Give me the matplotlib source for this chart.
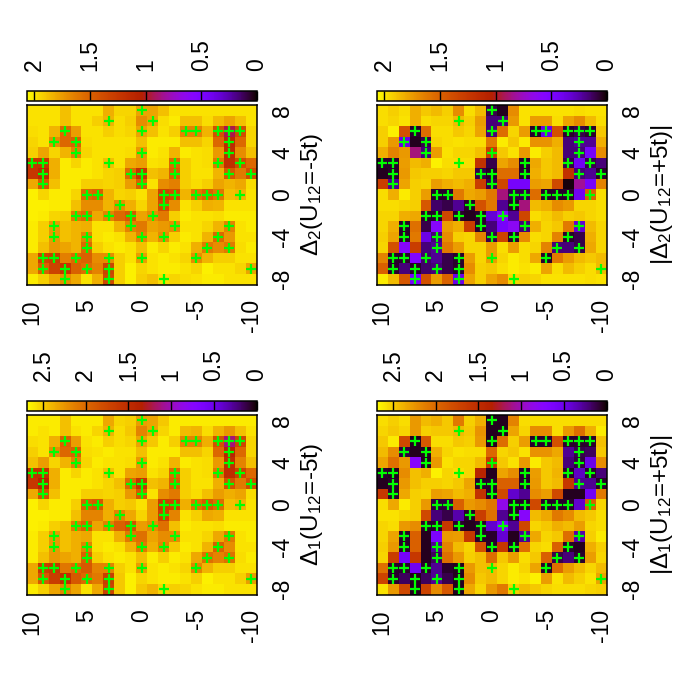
"""Four gap maps with zero-site markers, drawn rotated as on the printed page."""
import matplotlib

matplotlib.use("Agg")
import matplotlib.pyplot as plt
import numpy as np
from matplotlib.colors import ListedColormap

plt.rcParams["font.family"] = ["Liberation Sans", "DejaVu Sans"]
plt.rcParams["mathtext.fontset"] = "custom"
plt.rcParams["mathtext.rm"] = "Liberation Sans"
plt.rcParams["mathtext.it"] = "Liberation Sans"
plt.rcParams["mathtext.default"] = "rm"

# cell values as percent of each panel's colour range, rows x=8..-8, columns y=10..-10
d2_minus = [
    [96,96,96,91,96,96,96,88,94,94,86,86,91,96,96,96,96,96,96,96,96],
    [96,96,96,91,96,96,93,89,95,93,82,86,95,97,91,91,95,90,86,91,96],
    [95,96,89,74,85,96,96,93,95,94,86,91,96,93,80,80,89,68,45,67,94],
    [94,96,82,74,72,95,96,96,96,96,91,97,97,97,91,91,94,74,55,74,94],
    [93,86,94,89,80,94,96,96,96,95,84,97,96,89,97,96,95,84,56,82,91],
    [60,60,88,97,94,97,96,91,96,87,85,96,95,74,93,96,95,77,57,67,74],
    [60,55,88,97,97,97,96,94,93,74,59,91,89,72,93,96,96,89,70,78,67],
    [87,70,91,97,97,93,93,94,93,85,72,96,82,79,93,95,93,86,89,87,95],
    [98,94,97,97,94,74,72,89,94,93,96,86,64,67,89,77,72,77,91,89,96],
    [98,98,97,97,91,82,82,89,82,88,94,86,67,82,96,93,88,89,96,96,96],
    [98,97,94,93,78,74,87,80,74,70,86,82,78,93,97,96,96,95,97,97,97],
    [97,93,84,91,89,88,96,96,89,80,78,86,84,82,96,96,94,89,80,96,97],
    [97,93,84,91,89,80,96,97,96,89,80,89,82,93,97,96,89,74,84,96,96],
    [97,91,84,86,89,74,93,96,97,96,91,97,94,97,96,88,78,82,78,95,97],
    [87,64,62,79,74,72,82,82,93,96,85,96,97,96,94,82,89,93,93,96,96],
    [87,72,64,59,72,75,80,64,93,98,94,96,97,97,96,94,98,96,96,94,86],
    [97,93,87,82,87,96,88,66,93,98,93,91,95,94,95,96,97,97,96,96,96],
]
d2_plus = [
    [95,93,95,88,92,90,93,82,95,90,5,2,82,96,96,96,96,96,95,96,96],
    [95,94,96,88,95,94,94,90,93,85,8,8,84,96,85,85,95,86,82,90,95],
    [93,98,68,3,75,95,95,92,94,86,8,75,94,85,3,18,68,3,5,3,92],
    [93,84,18,2,5,94,95,96,95,95,78,97,92,97,83,83,88,8,10,10,88],
    [88,80,84,42,8,85,96,94,94,91,62,92,96,84,97,93,90,8,8,22,82],
    [3,3,85,90,88,98,95,95,95,58,5,86,82,3,87,92,90,5,20,5,8],
    [2,3,84,92,93,93,94,92,92,5,3,75,75,3,88,92,90,58,8,10,3],
    [62,10,86,93,94,85,88,90,88,62,5,65,22,22,85,86,66,1,40,22,80],
    [95,88,97,93,85,3,3,78,87,85,78,42,5,5,75,3,3,3,20,72,95],
    [95,95,94,93,70,7,5,10,3,68,78,10,3,42,90,88,82,84,94,94,95],
    [94,94,88,87,3,3,65,3,2,3,16,28,10,65,95,93,90,93,92,94,95],
    [94,88,3,76,5,28,85,88,62,3,8,22,30,8,88,94,92,78,16,90,94],
    [93,86,3,78,18,8,82,93,94,80,5,64,3,82,95,94,80,3,5,88,94],
    [94,68,28,62,8,10,78,85,94,94,85,95,85,95,94,80,8,8,5,87,94],
    [80,3,3,26,7,10,5,3,85,94,85,94,97,95,87,3,78,85,90,92,90],
    [72,3,8,3,7,8,5,3,82,93,92,95,97,96,97,86,95,90,93,95,90],
    [97,90,70,22,68,85,73,18,86,93,86,82,94,93,94,96,96,96,96,95,96],
]
d1_minus = [
    [97,97,97,91,97,97,97,87,94,93,85,86,92,97,97,97,97,97,97,97,97],
    [97,96,97,91,96,97,94,89,95,92,80,86,94,97,90,89,95,89,84,91,96],
    [95,96,88,72,85,96,97,93,95,94,86,92,97,93,80,80,88,68,42,65,94],
    [93,96,82,74,72,95,96,97,96,96,91,97,97,97,91,91,94,74,52,74,94],
    [91,85,94,89,80,94,97,96,96,95,84,97,96,89,97,96,95,84,56,80,91],
    [58,58,88,97,94,97,96,91,96,86,85,96,94,74,93,96,95,77,56,64,74],
    [60,52,88,97,97,97,96,94,91,74,59,91,89,72,93,96,96,88,68,78,67],
    [87,68,91,97,97,93,93,94,93,84,70,96,82,78,93,95,91,85,88,86,95],
    [98,94,97,97,93,72,70,88,93,92,96,85,62,64,88,76,70,75,91,89,96],
    [98,98,97,97,91,80,80,88,80,87,94,85,64,80,96,93,87,88,96,96,96],
    [98,97,93,91,78,72,86,79,72,68,85,82,76,91,97,96,96,95,97,97,97],
    [97,93,84,91,88,87,96,96,88,78,76,86,82,82,96,96,94,87,78,96,97],
    [97,93,84,91,88,80,96,97,96,89,78,88,80,92,97,96,89,72,82,96,96],
    [97,91,84,86,88,72,93,96,97,96,91,97,93,97,96,87,76,80,76,95,97],
    [87,62,60,77,74,70,80,80,93,96,85,96,97,96,94,80,89,93,93,96,96],
    [87,70,62,57,70,74,78,62,92,98,94,96,97,97,96,93,98,96,96,93,85],
    [97,93,86,80,86,96,87,64,92,98,92,89,94,93,94,96,97,97,96,96,96],
]
d1_plus = [
    [95,93,95,84,90,88,92,78,93,88,2,2,80,95,95,95,95,95,95,95,95],
    [94,92,94,84,93,92,92,90,92,83,2,2,86,94,82,82,95,84,76,88,97],
    [92,97,66,2,70,95,95,92,93,84,2,75,93,85,3,3,68,3,3,3,91],
    [90,82,4,2,2,88,94,96,95,95,74,94,92,96,83,83,87,10,5,6,92],
    [86,76,84,28,2,84,96,94,94,90,60,92,96,84,97,92,90,8,4,18,82],
    [3,2,82,91,88,98,94,95,94,52,2,86,82,3,85,92,89,3,14,3,8],
    [2,3,84,91,93,93,94,92,86,3,3,72,72,3,84,92,90,60,10,10,3],
    [60,3,87,93,94,85,86,90,88,58,3,66,15,10,82,85,66,2,2,20,78],
    [95,87,97,93,84,4,4,72,84,82,77,32,3,3,66,3,3,3,15,72,94],
    [96,96,94,93,66,8,5,12,3,62,76,10,3,28,90,87,78,82,90,92,95],
    [94,95,84,82,3,3,60,3,2,3,15,24,10,65,94,92,88,90,85,94,95],
    [94,86,3,72,2,24,84,85,60,3,3,16,2,10,87,94,92,75,12,93,97],
    [93,84,3,72,2,10,80,90,94,68,3,60,3,76,94,95,72,3,2,88,93],
    [94,62,22,60,2,6,76,84,93,91,75,92,85,95,92,72,5,8,3,85,94],
    [76,3,3,20,3,10,3,2,84,91,90,94,97,94,86,3,75,85,90,94,90],
    [64,3,6,2,6,10,5,2,82,92,90,94,97,96,98,85,96,90,93,96,86],
    [96,84,66,2,64,82,70,2,87,94,84,78,93,90,92,94,95,95,95,94,93],
]

x_sites = [8,7,6,5,4,3,2,1,0,-1,-2,-3,-4,-5,-6,-7,-8]
y_sites = [10,9,8,7,6,5,4,3,2,1,0,-1,-2,-3,-4,-5,-6,-7,-8,-9,-10]

# zero sites, green crosses: same in all panels
mark_x = [8,7,7,6,6,6,6,6,6,6,5,5,5,4,4,4,3,3,3,3,3,3,2,2,2,2,2,2,1,1,
          0,0,0,0,0,0,0,0,-1,-1,-2,-2,-2,-2,-2,-3,-3,-3,-3,-4,-4,-4,-4,-4,
          -5,-5,-5,-6,-6,-6,-6,-6,-6,-7,-7,-7,-7,-7,-8,-8,-8]
mark_y = [0,3,-1,7,0,-4,-5,-7,-8,-9,8,6,-8,6,0,-8,10,9,3,-3,-7,-9,9,1,0,-3,-8,-10,9,0,
          5,4,-2,-3,-5,-6,-7,-9,2,-2,6,5,3,1,-1,8,1,-3,-8,8,5,0,-2,-7,
          5,-6,-8,9,8,6,3,0,-5,9,7,5,3,-10,7,3,-2]

x_ticks = [-8,-4,0,4,8]
y_ticks = [10,5,0,-5,-10]

panels = [
    (d2_minus, 2.07, [0,0.5,1,1.5,2], r"$\Delta_2$(U$_{12}$=-5t)", 26.7, 105, 91),
    (d2_plus, 2.07, [0,0.5,1,1.5,2], r"|$\Delta_2$(U$_{12}$=+5t)|", 376.7, 105, 91),
    (d1_minus, 2.69, [0,0.5,1,1.5,2,2.5], r"$\Delta_1$(U$_{12}$=-5t)", 26.7, 415, 401),
    (d1_plus, 2.69, [0,0.5,1,1.5,2,2.5], r"|$\Delta_1$(U$_{12}$=+5t)|", 376.7, 415, 401),
]

W, H = 700, 699
PANEL_W, PANEL_H = 230, 179.5
BAR_H = 9.5
FS = 16.5

# gnuplot's default pm3d palette (rgbformulae 7,5,15)
t = np.linspace(0, 1, 256)
cmap = ListedColormap(np.column_stack([np.sqrt(t), t**3, np.clip(np.sin(2 * np.pi * t), 0, 1)]))


def px_rect(left, top, width, height):
    return [left / W, 1 - (top + height) / H, width / W, height / H]


fig = plt.figure(figsize=(7.0, 6.99), dpi=100)

for pct, cb_max, cb_ticks, label, left, top, bar_top in panels:
    ax = fig.add_axes(px_rect(left, top, PANEL_W, PANEL_H))
    z = np.array(pct) / 100.0 * cb_max
    mesh = ax.pcolormesh(y_sites, x_sites, z, cmap=cmap, vmin=0, vmax=cb_max, shading="nearest", linewidth=0)
    ax.plot(mark_y, mark_x, ls="none", marker="+", ms=7.8, mew=1.6, color="#00ff00")
    ax.set_xlim(10.5, -10.5)
    ax.set_ylim(-8.5, 8.5)

    ax.set_xticks(y_ticks)
    ax.set_yticks(x_ticks)
    ax.set_xticklabels([str(v) for v in y_ticks], rotation=90, fontsize=FS, va="top", ha="center")
    ax.set_yticklabels([str(v) for v in x_ticks], rotation=90, fontsize=FS, va="center", ha="left")
    ax.yaxis.tick_right()
    ax.tick_params(axis="both", length=0, pad=10.5)
    for spine in ax.spines.values():
        spine.set_linewidth(1.1)

    fig.text((left + 285) / W, 1 - (top + 90) / H, label, rotation=90, fontsize=FS + 1,
             ha="center", va="center")

    cax = fig.add_axes(px_rect(left, bar_top, PANEL_W, BAR_H))
    cbar = fig.colorbar(mesh, cax=cax, orientation="horizontal")
    cax.invert_xaxis()
    cbar.set_ticks(cb_ticks)
    cbar.set_ticklabels([f"{v:g}" for v in cb_ticks])
    cax.xaxis.tick_top()
    cax.tick_params(axis="x", direction="in", length=6.8, width=1.0, pad=14.5, labelsize=FS, labelrotation=90)
    for lab in cax.get_xticklabels():
        lab.set_va("bottom")
        lab.set_ha("center")
    cbar.outline.set_linewidth(1.1)

fig.savefig("out.png", dpi=100)
